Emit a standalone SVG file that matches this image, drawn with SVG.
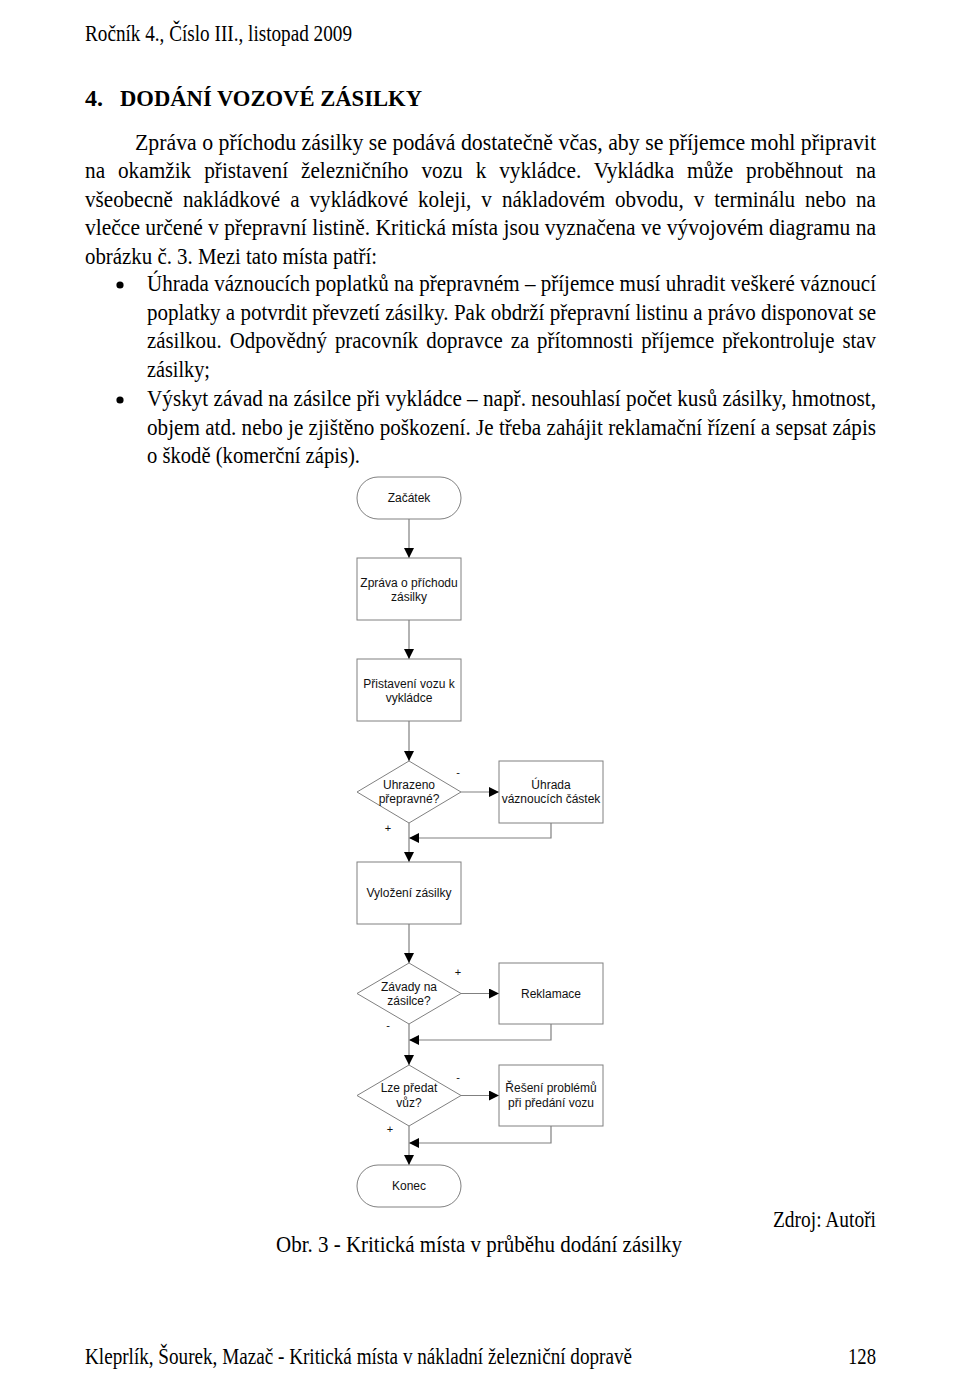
<svg xmlns="http://www.w3.org/2000/svg" width="960" height="1389" viewBox="0 0 960 1389">
<style>
.t{font-family:"Liberation Serif","Times New Roman",serif;font-size:22.5px;fill:#000}
.h{font-family:"Liberation Serif","Times New Roman",serif;font-size:24px;font-weight:bold;fill:#000}
.f{font-family:"Liberation Sans",Arial,sans-serif;font-size:12px;fill:#111;text-anchor:middle}
.lb{font-family:"Liberation Sans",Arial,sans-serif;font-size:11px;fill:#111;text-anchor:middle}
.s{fill:#fff;stroke:#808080;stroke-width:1}
.c{fill:none;stroke:#808080;stroke-width:1.2}
</style>
<defs>
<marker id="ah" viewBox="0 0 10 10" refX="10" refY="5" markerWidth="11" markerHeight="10" markerUnits="userSpaceOnUse" orient="auto">
<path d="M0,0 L10,5 L0,10 z" fill="#000"/>
</marker>
</defs>
<rect width="960" height="1389" fill="#fff"/>
<g id="page-text">
<text class="t" x="85" y="41" textLength="267" lengthAdjust="spacingAndGlyphs">Ročník 4., Číslo III., listopad 2009</text>
<text class="h" x="85" y="106">4.</text>
<text class="h" x="120" y="106" textLength="302" lengthAdjust="spacingAndGlyphs">DODÁNÍ VOZOVÉ ZÁSILKY</text>
<text class="t" x="135" y="149.5" textLength="741" lengthAdjust="spacingAndGlyphs">Zpráva o příchodu zásilky se podává dostatečně včas, aby se příjemce mohl připravit</text>
<text class="t" x="85" y="178" textLength="791" lengthAdjust="spacingAndGlyphs" word-spacing="8">na okamžik přistavení železničního vozu k vykládce. Vykládka může proběhnout na</text>
<text class="t" x="85" y="206.5" textLength="791" lengthAdjust="spacingAndGlyphs" word-spacing="5">všeobecně nakládkové a vykládkové koleji, v nákladovém obvodu, v terminálu nebo na</text>
<text class="t" x="85" y="235" textLength="791" lengthAdjust="spacingAndGlyphs">vlečce určené v přepravní listině. Kritická místa jsou vyznačena ve vývojovém diagramu na</text>
<text class="t" x="85" y="263.5" textLength="292" lengthAdjust="spacingAndGlyphs">obrázku č. 3. Mezi tato místa patří:</text>
<circle cx="120" cy="285" r="3.6" fill="#000"/>
<text class="t" x="147" y="291" textLength="729" lengthAdjust="spacingAndGlyphs">Úhrada váznoucích poplatků na přepravném – příjemce musí uhradit veškeré váznoucí</text>
<text class="t" x="147" y="319.5" textLength="729" lengthAdjust="spacingAndGlyphs">poplatky a potvrdit převzetí zásilky. Pak obdrží přepravní listinu a právo disponovat se</text>
<text class="t" x="147" y="348" textLength="729" lengthAdjust="spacingAndGlyphs" word-spacing="3">zásilkou. Odpovědný pracovník dopravce za přítomnosti příjemce překontroluje stav</text>
<text class="t" x="147" y="376.5" textLength="63" lengthAdjust="spacingAndGlyphs">zásilky;</text>
<circle cx="120" cy="400" r="3.6" fill="#000"/>
<text class="t" x="147" y="406" textLength="729" lengthAdjust="spacingAndGlyphs">Výskyt závad na zásilce při vykládce – např. nesouhlasí počet kusů zásilky, hmotnost,</text>
<text class="t" x="147" y="434.5" textLength="729" lengthAdjust="spacingAndGlyphs">objem atd. nebo je zjištěno poškození. Je třeba zahájit reklamační řízení a sepsat zápis</text>
<text class="t" x="147" y="463" textLength="213" lengthAdjust="spacingAndGlyphs">o škodě (komerční zápis).</text>
<text class="t" x="773" y="1227" textLength="103" lengthAdjust="spacingAndGlyphs">Zdroj: Autoři</text>
<text class="t" x="276" y="1252" style="font-size:24px" textLength="406" lengthAdjust="spacingAndGlyphs">Obr. 3 - Kritická místa v průběhu dodání zásilky</text>
<text class="t" x="85" y="1364" textLength="547" lengthAdjust="spacingAndGlyphs">Kleprlík, Šourek, Mazač - Kritická místa v nákladní železniční dopravě</text>
<text class="t" x="848" y="1364" textLength="28" lengthAdjust="spacingAndGlyphs">128</text>
</g>
<g id="connectors">
<path class="c" d="M409,519 V558" marker-end="url(#ah)"/>
<path class="c" d="M409,620 V659" marker-end="url(#ah)"/>
<path class="c" d="M409,721 V761" marker-end="url(#ah)"/>
<path class="c" d="M461,792 H499" marker-end="url(#ah)"/>
<path class="c" d="M551,823 V838 H409" marker-end="url(#ah)"/>
<path class="c" d="M409,823 V862" marker-end="url(#ah)"/>
<path class="c" d="M409,924 V963" marker-end="url(#ah)"/>
<path class="c" d="M461,993.5 H499" marker-end="url(#ah)"/>
<path class="c" d="M551,1024 V1040 H409" marker-end="url(#ah)"/>
<path class="c" d="M409,1024 V1065" marker-end="url(#ah)"/>
<path class="c" d="M461,1095.5 H499" marker-end="url(#ah)"/>
<path class="c" d="M551,1126 V1143 H409" marker-end="url(#ah)"/>
<path class="c" d="M409,1126 V1165" marker-end="url(#ah)"/>
<text class="lb" x="458" y="776">-</text>
<text class="lb" x="388" y="832">+</text>
<text class="lb" x="458" y="976">+</text>
<text class="lb" x="388" y="1029">-</text>
<text class="lb" x="458" y="1081">-</text>
<text class="lb" x="390" y="1133">+</text>
</g>
<g id="start">
<rect class="s" x="357" y="477" width="104" height="42" rx="21"/>
<text class="f" x="409" y="502">Začátek</text>
</g>
<g id="zprava">
<rect class="s" x="357" y="558" width="104" height="62"/>
<text class="f" x="409" y="586.5">Zpráva o příchodu</text>
<text class="f" x="409" y="601">zásilky</text>
</g>
<g id="pristaveni">
<rect class="s" x="357" y="659" width="104" height="62"/>
<text class="f" x="409" y="687.5">Přistavení vozu k</text>
<text class="f" x="409" y="702">vykládce</text>
</g>
<g id="uhrazeno">
<polygon class="s" points="409,761 461,792 409,823 357,792"/>
<text class="f" x="409" y="789">Uhrazeno</text>
<text class="f" x="409" y="803">přepravné?</text>
</g>
<g id="uhrada">
<rect class="s" x="499" y="761" width="104" height="62"/>
<text class="f" x="551" y="789">Úhrada</text>
<text class="f" x="551" y="803">váznoucích částek</text>
</g>
<g id="vylozeni">
<rect class="s" x="357" y="862" width="104" height="62"/>
<text class="f" x="409" y="897">Vyložení zásilky</text>
</g>
<g id="zavady">
<polygon class="s" points="409,963 461,993.5 409,1024 357,993.5"/>
<text class="f" x="409" y="991">Závady na</text>
<text class="f" x="409" y="1005">zásilce?</text>
</g>
<g id="reklamace">
<rect class="s" x="499" y="963" width="104" height="61"/>
<text class="f" x="551" y="997.5">Reklamace</text>
</g>
<g id="predat">
<polygon class="s" points="409,1065 461,1095.5 409,1126 357,1095.5"/>
<text class="f" x="409" y="1092">Lze předat</text>
<text class="f" x="409" y="1107">vůz?</text>
</g>
<g id="reseni">
<rect class="s" x="499" y="1065" width="104" height="61"/>
<text class="f" x="551" y="1092">Řešení problémů</text>
<text class="f" x="551" y="1107">při předání vozu</text>
</g>
<g id="end">
<rect class="s" x="357" y="1165" width="104" height="42" rx="21"/>
<text class="f" x="409" y="1190">Konec</text>
</g>
</svg>
